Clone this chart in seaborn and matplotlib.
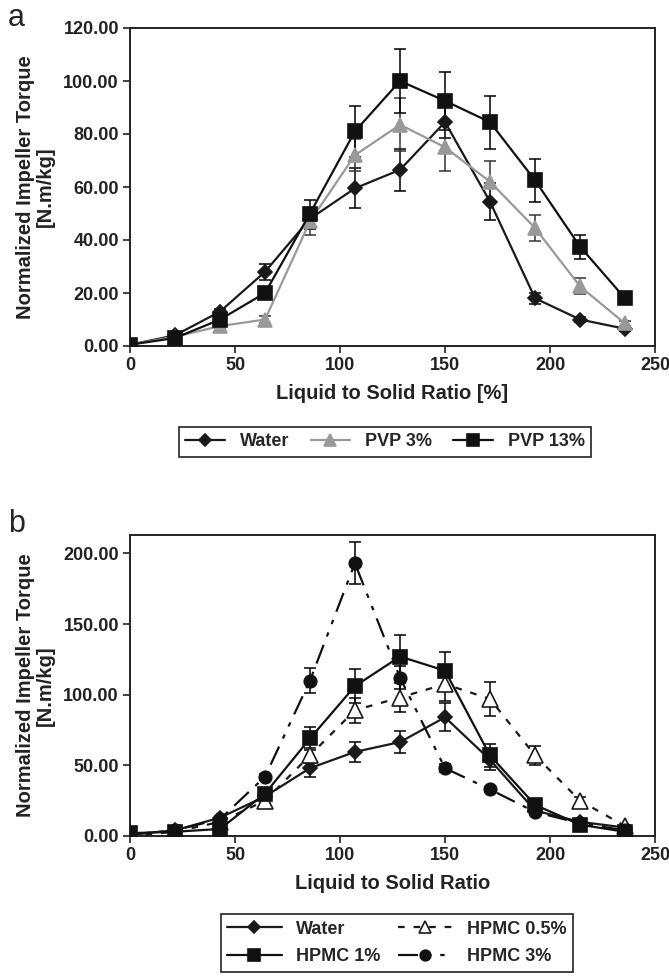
import numpy as np
import pandas as pd
import matplotlib
matplotlib.use("Agg")
import matplotlib.pyplot as plt
import seaborn as sns

sns.set_theme(style="ticks")
plt.rcParams['font.family'] = ['Liberation Sans', 'DejaVu Sans']
plt.rcParams['font.weight'] = 'bold'

# ---------------- data ----------------
x_ratio = [0, 21.4, 42.9, 64.3, 85.7, 107.1, 128.6, 150.0, 171.4, 192.9, 214.3, 235.7]

# Panel a
a_water = [0.5, 4.0, 13.0, 28.0, 48.0, 59.5, 66.5, 84.5, 54.5, 18.0, 10.0, 6.5]
a_water_err = [0.3, 0.5, 1.0, 3.0, 4.0, 7.5, 8.0, 6.0, 7.0, 2.0, 1.0, 0.8]
a_pvp3 = [0.5, 3.5, 7.5, 10.0, 47.0, 72.0, 83.5, 75.0, 62.0, 44.5, 22.5, 8.5]
a_pvp3_err = [0.3, 0.5, 1.0, 1.5, 5.0, 6.0, 10.0, 9.0, 8.0, 5.0, 3.0, 1.0]
a_pvp13 = [0.5, 3.0, 10.0, 20.0, 50.0, 81.0, 100.0, 92.5, 84.5, 62.5, 37.5, 18.0]
a_pvp13_err = [0.3, 0.5, 1.0, 2.0, 5.0, 9.5, 12.0, 11.0, 10.0, 8.0, 4.5, 1.0]

# Panel b
b_water = [1.0, 4.0, 13.0, 28.0, 48.0, 59.5, 66.5, 84.0, 54.0, 18.0, 10.0, 6.0]
b_water_err = [0.3, 0.5, 1.0, 2.0, 6.0, 7.0, 8.0, 10.0, 7.0, 2.0, 1.0, 0.8]
b_hpmc05 = [0.0, 3.0, 10.0, 25.0, 57.0, 89.0, 98.0, 107.5, 97.0, 57.0, 25.0, 7.0]
b_hpmc05_err = [0.3, 0.5, 1.0, 2.0, 5.0, 9.0, 10.0, 12.0, 12.0, 7.0, 2.5, 1.0]
b_hpmc1 = [2.0, 3.0, 5.0, 30.0, 69.0, 106.0, 127.0, 117.0, 57.0, 22.0, 8.0, 3.0]
b_hpmc1_err = [0.3, 0.5, 1.0, 2.0, 8.0, 12.0, 15.0, 13.0, 8.0, 2.0, 1.0, 0.5]
b_hpmc3 = [1.0, 4.0, 12.0, 42.0, 110.0, 193.0, 112.0, 48.0, 33.0, 17.0, 9.0, 4.0]
b_hpmc3_err = [0.3, 0.5, 1.0, 2.0, 9.0, 15.0, 8.0, 3.0, 2.0, 1.5, 1.0, 0.5]

a_yticks = [0, 20, 40, 60, 80, 100, 120]
b_yticks = [0, 50, 100, 150, 200]
x_ticks = [0, 50, 100, 150, 200, 250]

# ---------------- figure ----------------
fig = plt.figure(figsize=(6.69, 9.77), dpi=100)
W, H = 669, 977
def rect(l, t, r, b):
    return [l / W, 1 - b / H, (r - l) / W, (b - t) / H]

ax_a = fig.add_axes(rect(130, 28, 655, 346))
ax_b = fig.add_axes(rect(130, 535, 655, 836))

def draw(ax, y, err, label, color, marker, ms, dashes, mfc=None, ecolor='black', z=3):
    df = pd.DataFrame({'x': x_ratio, 'y': y})
    ax.errorbar(x_ratio, y, yerr=err, fmt='none', ecolor=ecolor, elinewidth=1.1,
                capsize=4, capthick=1.1, zorder=z - 1)
    sns.lineplot(data=df, x='x', y='y', ax=ax, color=color, marker=marker,
                 markersize=ms, markeredgecolor=color,
                 markerfacecolor=color if mfc is None else mfc,
                 markeredgewidth=1.2, linewidth=1.6, label=label,
                 zorder=z, legend=False)
    line = ax.get_lines()[-1]
    if dashes is not None:
        line.set_dashes(dashes)
    return line

la = []
la.append(draw(ax_a, a_water, a_water_err, 'Water', '#1a1a1a', 'D', 7.5, None))
la.append(draw(ax_a, a_pvp3, a_pvp3_err, 'PVP 3%', '#999999', '^', 10, None, ecolor='#333333'))
la.append(draw(ax_a, a_pvp13, a_pvp13_err, 'PVP 13%', '#111111', 's', 10, None))

lb = {}
lb['Water'] = draw(ax_b, b_water, b_water_err, 'Water', '#1a1a1a', 'D', 7.5, None)
lb['HPMC 0.5%'] = draw(ax_b, b_hpmc05, b_hpmc05_err, 'HPMC 0.5%', '#1a1a1a', '^', 11, (3, 4), mfc='white')
lb['HPMC 1%'] = draw(ax_b, b_hpmc1, b_hpmc1_err, 'HPMC 1%', '#111111', 's', 10, None)
lb['HPMC 3%'] = draw(ax_b, b_hpmc3, b_hpmc3_err, 'HPMC 3%', '#111111', 'o', 9, (9, 4, 2, 4, 2, 4))

fs_tick = 13
fs_lab = 14.5
for ax, yt, ylim, xl in [(ax_a, a_yticks, (0, 120), 'Liquid to Solid Ratio [%]'),
                          (ax_b, b_yticks, (0, 213), 'Liquid to Solid Ratio')]:
    ax.set_xlim(0, 250)
    ax.set_ylim(*ylim)
    ax.set_xticks(x_ticks)
    ax.set_yticks(yt)
    ax.set_yticklabels([f"{v:.2f}" for v in yt])
    ax.tick_params(axis='both', direction='out', length=5, width=1.2, labelsize=fs_tick,
                   colors='#222222', pad=3)
    for lab in ax.get_xticklabels() + ax.get_yticklabels():
        lab.set_fontweight('bold')
    for s in ax.spines.values():
        s.set_visible(True)
        s.set_linewidth(1.4)
        s.set_color('#222222')
    ax.set_xlabel(xl, fontsize=fs_lab, fontweight='bold', color='#222222', labelpad=7)
    ax.set_ylabel('Normalized Impeller Torque\n[N.m/kg]', fontsize=fs_lab,
                  fontweight='bold', color='#222222', labelpad=6, linespacing=1.05)
    ax.set_facecolor('white')

fig.text(8 / W, 1 - 18 / H, 'a', fontsize=22, fontweight='normal', va='center', ha='left')
fig.text(8 / W, 1 - 524 / H, 'b', fontsize=22, fontweight='normal', va='center', ha='left')

leg_kw = dict(frameon=True, fancybox=False, edgecolor='#222222', framealpha=1,
              prop={'weight': 'bold', 'size': fs_tick}, borderpad=0.35,
              handletextpad=0.8)
lga = fig.legend(la, ['Water', 'PVP 3%', 'PVP 13%'], loc='center', handlelength=2.2,
                 bbox_to_anchor=(385 / W, 1 - 442 / H), ncol=3, columnspacing=1.2, **leg_kw)
order_b = ['Water', 'HPMC 1%', 'HPMC 0.5%', 'HPMC 3%']
lgb = fig.legend([lb[k] for k in order_b], order_b, loc='center', handlelength=3.0,
                 bbox_to_anchor=(397 / W, 1 - 943 / H), ncol=2, columnspacing=1.0,
                 labelspacing=0.6, **leg_kw)
for lg in (lga, lgb):
    lg.get_frame().set_linewidth(1.2)
    for h in lg.legend_handles:
        h.set_markersize(h.get_markersize() * 0.85)

fig.savefig('out.png', dpi=100, facecolor='white')
